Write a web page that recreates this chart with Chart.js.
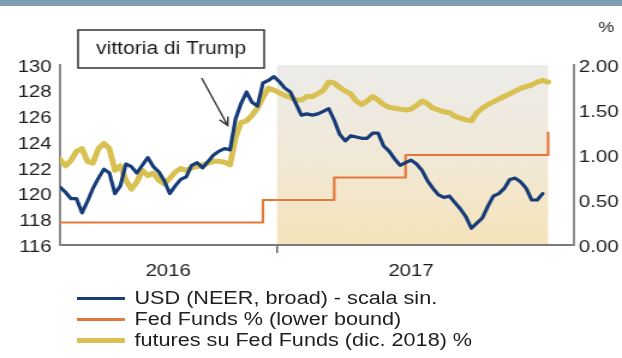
<!DOCTYPE html>
<html>
<head>
<meta charset="utf-8">
<script src="https://cdn.jsdelivr.net/npm/chart.js@4/dist/chart.umd.min.js"></script>
<style>
  html, body { margin: 0; padding: 0; background: #fff; overflow: hidden; }
  #band { position: absolute; left: 0; top: 0; width: 622px; height: 6px; background: #7f9db3; }
  /* the whole figure is drawn 518px wide and widened to 622px */
  #stage { position: absolute; left: 0; top: 0; width: 518px; height: 358px;
           transform-origin: 0 0; transform: scaleX(1.2008); }
  #chart { position: absolute; left: 0; top: 0; width: 518px; height: 358px; }
  #legend { position: absolute; left: 64px; top: 288px;
            font: 18px "Liberation Sans", Arial, sans-serif; color: #1e1e1e; }
  .row { display: flex; align-items: center; height: 21px; white-space: nowrap; }
  .sw { width: 40px; margin-right: 8px; }
</style>
</head>
<body>
<div id="stage">
  <canvas id="chart" width="518" height="358"></canvas>
  <div id="legend"></div>
</div>
<div id="band"></div>
<script>
// Weekly observations, first one on 30 Mar 2016; x values are days from 1 Jan 2017
const firstDay = -277;
const weekStep = 7;

// USD nominal effective exchange rate (broad), index - left scale
const usdNeer = [
  120.5, 120.1, 119.6, 119.6, 118.5, 119.4, 120.4, 121.2, 121.9, 121.6,
  120.0, 120.6, 122.3, 122.1, 121.6, 122.2, 122.8, 122.1, 121.7, 121.0,
  120.0, 120.6, 121.1, 121.3, 122.2, 122.4, 122.0, 122.5, 123.0, 123.3,
  123.5, 123.4, 125.8, 127.0, 127.9, 127.1, 126.8, 128.6, 128.8, 129.1,
  128.7, 128.2, 127.9, 127.0, 126.1, 126.2, 126.1, 126.2, 126.4, 126.6,
  125.7, 124.6, 124.1, 124.5, 124.4, 124.3, 124.3, 124.7, 124.7, 123.7,
  123.3, 122.7, 122.2, 122.4, 122.6, 122.3, 121.8, 121.0, 120.4, 119.9,
  119.7, 119.8, 119.3, 118.8, 118.2, 117.3, 117.7, 118.1, 119.0, 119.8,
  120.0, 120.4, 121.1, 121.2, 120.9, 120.4, 119.5, 119.5, 120.0, null
];

// Fed Funds futures, December 2018 contract, implied rate % - right scale
const futuresDec2018 = [
  0.95, 0.88, 0.94, 1.04, 1.07, 0.93, 0.91, 1.07, 1.13, 1.07,
  0.83, 0.88, 0.72, 0.62, 0.70, 0.83, 0.77, 0.80, 0.72, 0.68,
  0.74, 0.81, 0.85, 0.83, 0.86, 0.87, 0.89, 0.91, 0.93, 0.93,
  0.92, 0.89, 1.20, 1.36, 1.38, 1.44, 1.52, 1.64, 1.74, 1.72,
  1.69, 1.66, 1.64, 1.61, 1.61, 1.65, 1.65, 1.68, 1.72, 1.81,
  1.80, 1.75, 1.71, 1.68, 1.60, 1.56, 1.60, 1.65, 1.61, 1.56,
  1.53, 1.52, 1.51, 1.50, 1.51, 1.55, 1.60, 1.57, 1.52, 1.50,
  1.48, 1.47, 1.43, 1.41, 1.39, 1.38, 1.47, 1.52, 1.56, 1.59,
  1.62, 1.65, 1.68, 1.71, 1.74, 1.76, 1.78, 1.81, 1.83, 1.81
];

// Fed Funds target range, lower bound %, and the FOMC days it changed
const fedDays  = [-277, -18, 73, 164, 346];
const fedRates = [0.25, 0.50, 0.75, 1.00, 1.25];

// Shaded year 2017 (up to the last observation) and x-axis labels
const shadeFrom = 0;
const shadeTo = 346;
const xTickDays = [-139, 0, 171];
const xTickLabels = ['2016', '', '2017'];

const seriesNames = ['USD (NEER, broad) - scala sin.', 'Fed Funds % (lower bound)', 'futures su Fed Funds (dic. 2018) %'];

// Election note
const noteText = 'vittoria di Trump';
const noteDay = -63;
const noteLevel = 125.3;

const toPoints = arr => arr.map((v, i) => ({ x: firstDay + weekStep * i, y: v }));
const fedPoints = fedDays.map((d, i) => ({ x: d, y: fedRates[i] }));

const FONT = '"Liberation Sans", Arial, sans-serif';
Chart.defaults.font.family = FONT;
Chart.defaults.color = '#1e1e1e';

const decor = {
  id: 'decor',
  beforeDraw(chart) {
    const { ctx, chartArea, scales } = chart;
    const x0 = scales.x.getPixelForValue(shadeFrom);
    const x1 = scales.x.getPixelForValue(shadeTo);
    const g = ctx.createLinearGradient(0, chartArea.top, 0, chartArea.bottom);
    g.addColorStop(0, '#edecea');
    g.addColorStop(0.5, '#f1e9d8');
    g.addColorStop(1, '#f5e3ba');
    ctx.save();
    ctx.fillStyle = g;
    ctx.fillRect(x0, chartArea.top, x1 - x0, chartArea.bottom - chartArea.top);
    ctx.restore();
  },
  afterDraw(chart) {
    const { ctx, scales } = chart;
    ctx.save();
    // note box
    ctx.fillStyle = '#fff';
    ctx.strokeStyle = '#333';
    ctx.lineWidth = 1.5;
    ctx.fillRect(65, 30, 155, 38);
    ctx.strokeRect(65, 30, 155, 38);
    ctx.fillStyle = '#1b1b1b';
    ctx.font = '17.5px ' + FONT;
    ctx.textAlign = 'center';
    ctx.textBaseline = 'middle';
    ctx.fillText(noteText, 142.5, 49.5);
    // arrow to the election week
    const tx = scales.x.getPixelForValue(noteDay);
    const ty = scales.yL.getPixelForValue(noteLevel);
    const sx = tx - 21.7, sy = 78;
    const ang = Math.atan2(ty - sy, tx - sx);
    ctx.strokeStyle = '#333';
    ctx.lineWidth = 1.4;
    ctx.beginPath();
    ctx.moveTo(sx, sy);
    ctx.lineTo(tx, ty);
    ctx.moveTo(tx - 9 * Math.cos(ang - 0.45), ty - 9 * Math.sin(ang - 0.45));
    ctx.lineTo(tx, ty);
    ctx.lineTo(tx - 9 * Math.cos(ang + 0.45), ty - 9 * Math.sin(ang + 0.45));
    ctx.stroke();
    // unit of the right scale
    ctx.fillStyle = '#262626';
    ctx.font = '15px ' + FONT;
    ctx.fillText('%', 505, 28);
    ctx.restore();
  }
};

const chart = new Chart(document.getElementById('chart'), {
  type: 'line',
  data: {
    datasets: [
      { label: seriesNames[0], data: toPoints(usdNeer), yAxisID: 'yL',
        borderColor: '#173c78', borderWidth: 3.2 },
      { label: seriesNames[1], data: fedPoints, yAxisID: 'yR', stepped: true,
        borderColor: '#e4783a', borderWidth: 2.2 },
      { label: seriesNames[2], data: toPoints(futuresDec2018), yAxisID: 'yR',
        borderColor: '#d8c152', borderWidth: 5 }
    ]
  },
  options: {
    responsive: false,
    animation: false,
    events: [],
    layout: { padding: { top: 65, left: 0, right: 0, bottom: 0 } },
    elements: { point: { radius: 0 }, line: { tension: 0, borderJoinStyle: 'round', borderCapStyle: 'round' } },
    plugins: { legend: { display: false }, tooltip: { enabled: false } },
    scales: {
      x: {
        type: 'linear', min: -277, max: 379,
        afterBuildTicks: s => { s.ticks = xTickDays.map(v => ({ value: v })); },
        afterFit: s => { s.height = 113; },
        ticks: { autoSkip: false, maxRotation: 0, padding: 8, font: { size: 17 },
                 callback: (v, i) => xTickLabels[i] },
        grid: { drawOnChartArea: false, drawTicks: true, tickLength: 8, lineWidth: 1.5,
                color: c => (c.tick && c.tick.value === 0) ? '#666' : 'rgba(0,0,0,0)' },
        border: { display: true, color: '#7a7a7a', width: 2 }
      },
      yL: {
        position: 'left', min: 116, max: 130,
        afterFit: s => { s.width = 50; },
        ticks: { stepSize: 2, padding: 7, labelOffset: 2, font: { size: 17 } },
        grid: { display: false, drawTicks: false },
        border: { display: true, color: '#8c8c8c', width: 2 }
      },
      yR: {
        position: 'right', min: 0, max: 2,
        afterFit: s => { s.width = 40; },
        ticks: { stepSize: 0.25, padding: 4, labelOffset: 2, font: { size: 17 }, callback: v => v.toFixed(2) },
        grid: { display: false, drawTicks: false },
        border: { display: true, color: '#8c8c8c', width: 2 }
      }
    }
  },
  plugins: [decor]
});

// legend built from the chart's own datasets
const legend = document.getElementById('legend');
chart.data.datasets.forEach(ds => {
  const row = document.createElement('div');
  row.className = 'row';
  const sw = document.createElement('span');
  sw.className = 'sw';
  sw.style.height = ds.borderWidth + 'px';
  sw.style.background = ds.borderColor;
  const tx = document.createElement('span');
  tx.textContent = ds.label;
  row.appendChild(sw);
  row.appendChild(tx);
  legend.appendChild(row);
});
</script>
</body>
</html>
